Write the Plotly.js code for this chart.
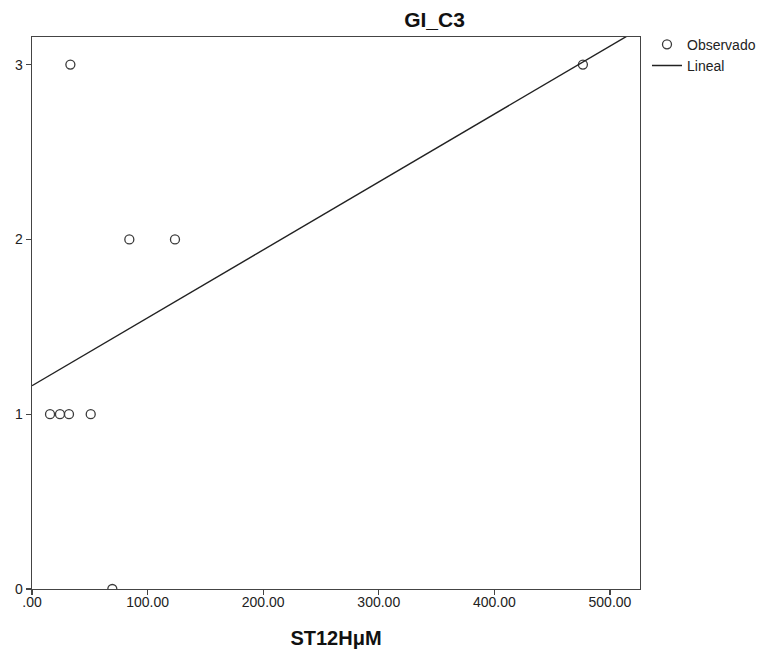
<!DOCTYPE html>
<html>
<head>
<meta charset="utf-8">
<script src="https://cdn.plot.ly/plotly-3.0.1.min.js"></script>
<style>
  html, body { margin: 0; padding: 0; background: #fff; }
  #chart { width: 763px; height: 657px; }
</style>
</head>
<body>
<div id="chart"></div>
<script>
// Observed values: ST12HμM against GI_C3
const st12h = [15.6, 24.2, 32.0, 50.8, 84.2, 123.7, 33.2, 476.6, 69.5];
const giC3  = [1, 1, 1, 1, 2, 2, 3, 3, 0];

const xTicks = [0, 100, 200, 300, 400, 500];
const xTickLabels = ['.00', '100.00', '200.00', '300.00', '400.00', '500.00'];
const yTicks = [0, 1, 2, 3];

const xRange = [0, 526];
const yRange = [0, 3.158];

// Least-squares linear fit over the observed points
function linearFit(xs, ys) {
  const n = xs.length;
  const mx = xs.reduce((a, b) => a + b, 0) / n;
  const my = ys.reduce((a, b) => a + b, 0) / n;
  let sxy = 0, sxx = 0;
  for (let i = 0; i < n; i++) {
    sxy += (xs[i] - mx) * (ys[i] - my);
    sxx += (xs[i] - mx) * (xs[i] - mx);
  }
  const slope = sxy / sxx;
  return { slope, intercept: my - slope * mx };
}
const fit = linearFit(st12h, giC3);
const fitX = [xRange[0], xRange[1]];
const fitY = fitX.map(x => fit.intercept + fit.slope * x);

const font = 'Arial, "Liberation Sans", sans-serif';

const traces = [
  {
    x: st12h, y: giC3, type: 'scatter', mode: 'markers', name: 'Observado',
    marker: { symbol: 'circle-open', size: 9, color: '#3a3a3a', line: { width: 1.3, color: '#3a3a3a' } }
  },
  {
    x: fitX, y: fitY, type: 'scatter', mode: 'lines', name: 'Lineal',
    line: { color: '#222', width: 1.4 }
  }
];

const layout = {
  width: 763, height: 657,
  paper_bgcolor: '#fff', plot_bgcolor: '#fff',
  margin: { l: 32, r: 123, t: 37, b: 68, autoexpand: false },
  font: { family: font, size: 14, color: '#222' },
  title: {
    text: '<b>GI_C3</b>', font: { family: font, size: 21, color: '#111' },
    xref: 'paper', x: 0.662, xanchor: 'center', yref: 'container', y: 1 - 20 / 657, yanchor: 'middle'
  },
  xaxis: {
    range: xRange, tickmode: 'array', tickvals: xTicks, ticktext: xTickLabels,
    showgrid: false, zeroline: false, showline: true, mirror: true,
    linecolor: '#444', linewidth: 1.3, ticks: 'outside', ticklen: 5, tickcolor: '#444', tickwidth: 1.3,
    ticklabelstandoff: -5,
    tickfont: { family: font, size: 14, color: '#222' },
    title: { text: '<b>ST12HμM</b>', font: { family: font, size: 20, color: '#111' }, standoff: 22 }
  },
  yaxis: {
    range: yRange, tickmode: 'array', tickvals: yTicks,
    showgrid: false, zeroline: false, showline: true, mirror: true,
    linecolor: '#444', linewidth: 1.3, ticks: 'outside', ticklen: 5, tickcolor: '#444', tickwidth: 1.3,
    tickfont: { family: font, size: 14, color: '#222' }
  },
  legend: {
    x: 1.0115, y: 1.015, xanchor: 'left', yanchor: 'top',
    font: { family: font, size: 14, color: '#222' },
    bgcolor: 'rgba(0,0,0,0)', itemwidth: 30, tracegroupgap: 0
  },
  showlegend: true
};

Plotly.newPlot('chart', traces, layout, { displayModeBar: false, staticPlot: true });
</script>
</body>
</html>
